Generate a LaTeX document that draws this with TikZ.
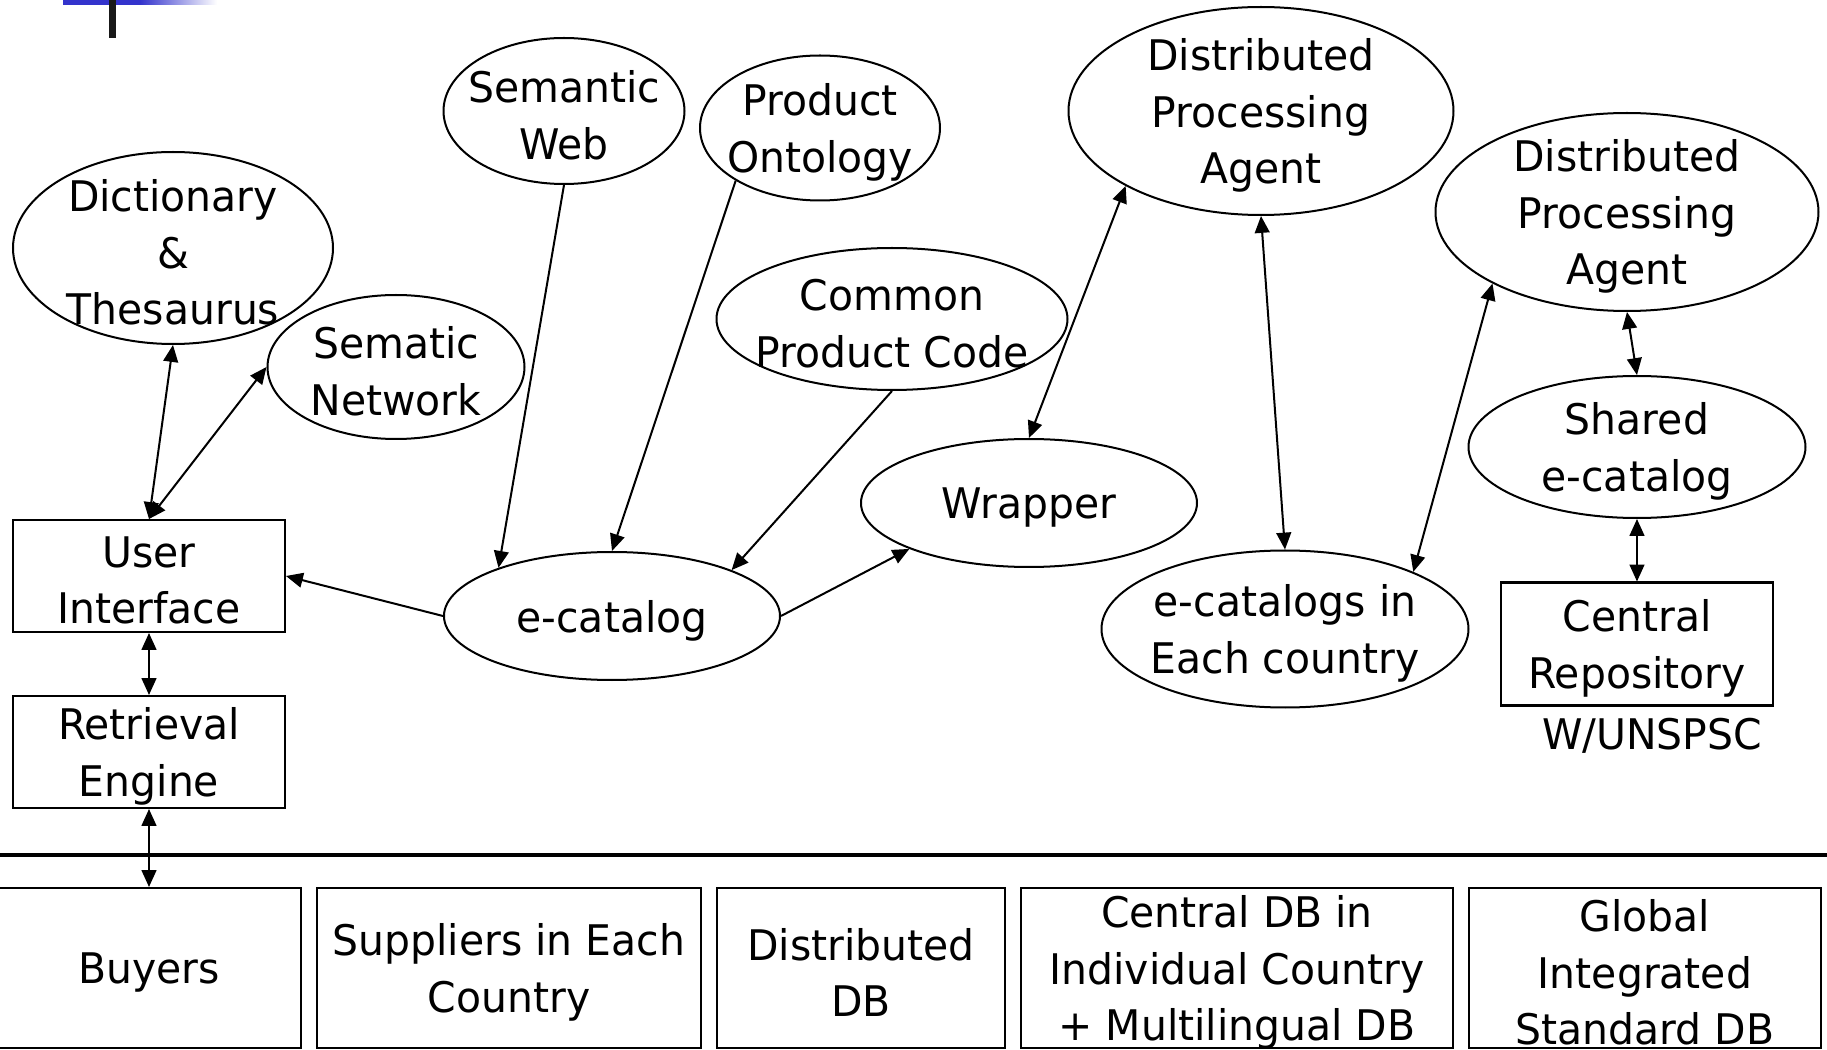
\documentclass[tikz,border=0pt]{standalone}
\usepackage{fontspec}
\setmainfont{DejaVu Sans}[FakeStretch=0.97]
\usetikzlibrary{shapes.geometric,arrows.meta}
\definecolor{markblue}{RGB}{51,51,204}

\begin{document}
\begin{tikzpicture}[x=0.1mm, y=-0.1mm,
        font=\fontsize{12pt}{16.1pt}\selectfont,
        line width=0.57pt,
        >={Triangle[length=4.8pt,width=4.2pt]},
        oval/.style={ellipse, draw, inner sep=0pt},
        box/.style={rectangle, draw, inner sep=0pt},
        dbbox/.style={box, minimum height=16mm},
        txt/.style={align=center, inner sep=0pt, yshift=-0.45mm}]
        \useasboundingbox (0,0) rectangle (1827,1050);

        % corner mark
        \fill[markblue] (63,0) rectangle (140,5);
        \shade[left color=markblue, right color=white] (140,0) rectangle (217,5);
        \fill[black!90] (109,0) rectangle (116,38);

        % knowledge sources
        \node[oval, minimum width=32mm, minimum height=19.2mm, label={[txt]center:Dictionary\\\&\\Thesaurus}] (dict) at (173,248) {};
        \node[oval, minimum width=25.7mm, minimum height=14.4mm, label={[txt]center:Sematic\\Network}] (semnet) at (396,367) {};
        \node[oval, minimum width=24.1mm, minimum height=14.6mm, label={[txt]center:Semantic\\Web}] (semweb) at (564,111) {};
        \node[oval, minimum width=24mm, minimum height=14.5mm, label={[txt]center:Product\\Ontology}] (prodont) at (820,128) {};
        \node[oval, minimum width=35.1mm, minimum height=14.2mm, label={[txt]center:Common\\Product Code}] (cpc) at (892,319) {};

        % catalogs and agents
        \node[oval, minimum width=33.6mm, minimum height=12.8mm, label={[txt]center:e-catalog}] (ecat) at (612,616) {};
        \node[oval, minimum width=33.6mm, minimum height=12.8mm, label={[txt]center:Wrapper}] (wrap) at (1029,503) {};
        \node[oval, minimum width=38.5mm, minimum height=20.8mm, label={[txt]center:Distributed\\Processing\\Agent}] (dpa1) at (1261,111) {};
        \node[oval, minimum width=36.7mm, minimum height=15.7mm, label={[txt]center:e-catalogs in\\Each country}] (ecs) at (1285,629) {};
        \node[oval, minimum width=38.3mm, minimum height=19.8mm, label={[txt]center:Distributed\\Processing\\Agent}] (dpa2) at (1627,212) {};
        \node[oval, minimum width=33.7mm, minimum height=14.2mm, label={[txt]center:Shared\\e-catalog}] (shared) at (1637,447) {};

        \node[box, minimum width=27.2mm, minimum height=12.3mm, label={[txt]center:Central\\Repository}] (repo) at (1637,644) {};
        \node[txt] (unspsc) at (1652,731) {W/UNSPSC};

        \node[box, minimum width=27.2mm, minimum height=11.2mm, label={[txt]center:User\\Interface}] (ui) at (149,576) {};
        \node[box, minimum width=27.2mm, minimum height=11.2mm, label={[txt]center:Retrieval\\Engine}] (ret) at (149,752) {};

        % storage layer
        \draw[line width=0.9pt] (0,855) -- (1827,855);
        \node[dbbox, minimum width=30.4mm, label={[txt]center:Buyers}] (buyers) at (149,968) {};
        \node[dbbox, minimum width=38.4mm, label={[txt]center:Suppliers in Each\\Country}] (suppl) at (509,968) {};
        \node[dbbox, minimum width=28.8mm, label={[txt]center:Distributed\\DB}] (distdb) at (861,968) {};
        \node[dbbox, minimum width=43.2mm, label={[txt]center:Central DB in\\Individual Country\\+ Multilingual DB}] (centdb) at (1237,968) {};
        \node[dbbox, minimum width=35.2mm, label={[txt]center:Global\\Integrated\\Standard DB}] (globdb) at (1645,968) {};

        \draw[<->] (dict.south) -- (ui.north);
        \draw[<->] (semnet.west) -- (ui.north);
        \draw[->] (semweb.south) -- (ecat.157);
        \draw[->] (prodont.212) -- (ecat.north);
        \draw[->] (cpc.south) -- (ecat.21);
        \draw[->] (ecat.west) -- (ui.east);
        \draw[->] (ecat.east) -- (wrap.201);
        \draw[<->] (wrap.north) -- (dpa1.209);
        \draw[<->] (dpa1.south) -- (ecs.north);
        \draw[<->] (ecs.24) -- (dpa2.208);
        \draw[<->] (dpa2.south) -- (shared.north);
        \draw[<->] (shared.south) -- (repo.north);
        \draw[<->] (ui.south) -- (ret.north);
        \draw[<->] (ret.south) -- (buyers.north);
\end{tikzpicture}
\end{document}
